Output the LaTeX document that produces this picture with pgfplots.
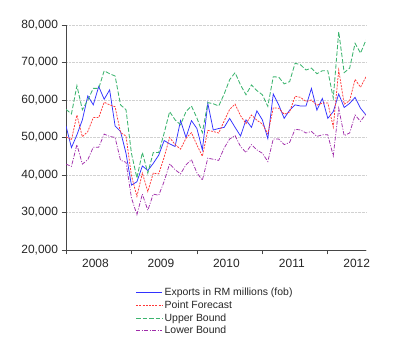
\documentclass[border=0pt]{standalone}
\usepackage{fontspec}
\setmainfont{Liberation Sans}
\usepackage{pgfplots}
\pgfplotsset{compat=1.18}
\usepackage{pgfplotstable}
\definecolor{cblue}{RGB}{50,50,255}
\definecolor{cred}{RGB}{255,55,55}
\definecolor{cgreen}{RGB}{60,180,110}
\definecolor{cpurple}{RGB}{160,45,170}
\definecolor{axgray}{RGB}{70,70,70}

\pgfplotstableread{
m exp pf up lo
0 53100 50200 57500 42900
1 47300 49400 56300 42300
2 50700 56000 63800 48100
3 54700 50200 57400 42900
4 61100 51600 60000 44100
5 58700 55300 63100 47400
6 63600 55300 63100 47400
7 60200 59400 67800 50900
8 62700 58700 67000 50300
9 53100 58200 66400 50000
10 51600 51300 58700 43900
11 45800 50400 57400 43400
12 37300 39800 45800 33900
13 38200 34300 39200 29400
14 42400 40500 46000 34900
15 41200 35600 40500 30600
16 43100 40500 46000 34900
17 45300 40300 46000 34600
18 49200 44800 51200 38300
19 48300 50000 56900 43000
20 47600 48100 54700 41400
21 54500 46900 53400 40300
22 50000 49800 56900 42700
23 54500 51300 58400 44100
24 52400 48000 55200 40600
25 46700 45000 51300 38600
26 59100 51900 59300 44500
27 52000 51600 59000 44200
28 52400 51200 58400 43900
29 52700 54400 61600 47200
30 55100 57500 65400 49600
31 52700 58900 67300 50500
32 50400 55800 64000 47600
33 54700 53700 61400 46000
34 52700 56000 64000 48100
35 57100 54600 62500 46700
36 54700 53600 61400 45800
37 49700 51000 58300 43600
38 61600 57900 66200 49600
39 58700 57800 66100 49600
40 55100 56200 64300 48100
41 57300 56800 64900 48700
42 58700 61000 69800 52200
43 58400 60700 69400 52000
44 58400 59600 68000 51200
45 63100 60000 68500 51600
46 57300 58600 67000 50300
47 60400 59200 67800 50700
48 55100 59200 67800 50700
49 56900 52800 60500 45100
50 61600 68000 78200 57800
51 58000 58900 67300 50500
52 59100 59800 68500 51200
53 60700 65500 75100 56000
54 57800 63400 72500 54300
55 56000 66200 76000 56300
}\data

\begin{document}
\begin{tikzpicture}
\useasboundingbox (0,0) rectangle (400bp,361bp);
\begin{axis}[
  at={(66bp,111bp)}, anchor=south west,
  scale only axis, width=300bp, height=225bp,
  xmin=0, xmax=55, ymin=20000, ymax=80000,
  axis x line=bottom, axis y line=left,
  axis line style={-, axgray, line width=0.8pt},
  tick align=outside, major tick length=4.5bp,
  tick style={axgray, line width=0.8pt},
  xtick={0,12,24,36,48}, xticklabels={},
  extra x ticks={5.4,17.4,29.4,41.4,53.3},
  extra x tick labels={2008,2009,2010,2011,2012},
  extra x tick style={major tick length=0pt, grid=none, xticklabel style={yshift=-5.5bp}},
  ytick={20000,30000,...,80000},
  scaled y ticks=false,
  yticklabel style={/pgf/number format/.cd, 1000 sep={,}, assume math mode=true},
  xticklabel style={/pgf/number format/assume math mode=true},
  tick label style={font=\fontsize{12}{14}\selectfont, text=black!85},
  ymajorgrids, grid style={densely dotted, black!18, line width=0.7pt},
  legend style={at={(rel axis cs:0.232,-0.16)}, anchor=north west, draw=none, fill=none,
    inner sep=0pt, row sep=-0.4pt, font=\fontsize{10.5}{12}\selectfont,
    cells={anchor=west}},
  legend image code/.code={\draw[#1] (0bp,0bp) -- (26bp,0bp);},
  legend cell align=left,
]
\addplot[cblue, line width=0.75pt] table[x=m,y=exp]{\data};
\addlegendentry{\textcolor{black!85}{Exports in RM millions (fob)}}
\addplot[cred, line width=0.75pt, dash pattern=on 2pt off 1.2pt] table[x=m,y=pf]{\data};
\addlegendentry{\textcolor{black!85}{Point Forecast}}
\addplot[cgreen, line width=0.85pt, dash pattern=on 4.5pt off 2pt] table[x=m,y=up]{\data};
\addlegendentry{\textcolor{black!85}{Upper Bound}}
\addplot[cpurple, line width=0.75pt, dash pattern=on 4pt off 1.5pt on 1pt off 1.5pt] table[x=m,y=lo]{\data};
\addlegendentry{\textcolor{black!85}{Lower Bound}}
\end{axis}
\end{tikzpicture}
\end{document}
